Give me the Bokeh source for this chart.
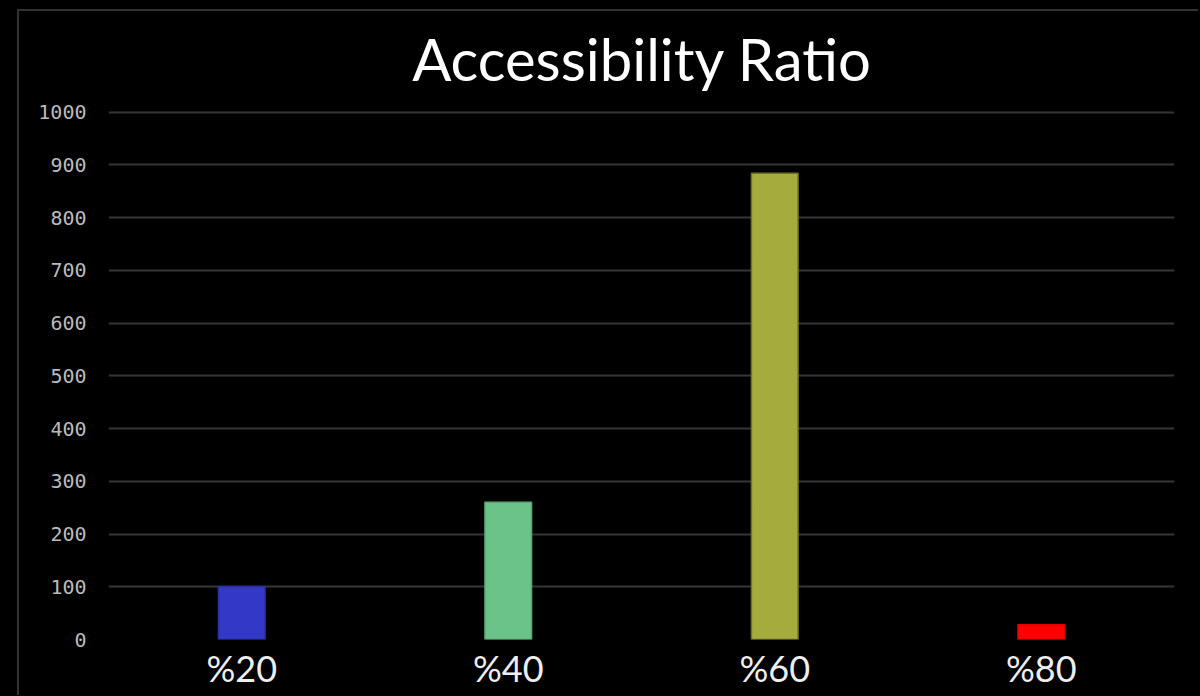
from bokeh.plotting import figure
from bokeh.models import Range1d, FixedTicker, Div
from bokeh.layouts import column
from bokeh.embed import file_html
from bokeh.resources import INLINE

title_text = "Accessibility Ratio"
categories = ["%20", "%40", "%60", "%80"]
values = [100, 260, 884, 28]
colors = ["#3338c6", "#6cc38a", "#a5ab3d", "#ff0000"]
outlines = ["#2a2fa8", "#5aa574", "#6e7228", "#e00000"]
y_ticks = [0, 100, 200, 300, 400, 500, 600, 700, 800, 900, 1000]

title = Div(
    text=('<div style="width:1181px;box-sizing:border-box;padding-left:64px;padding-top:19px;'
          'text-align:center;font-family:Lato;font-size:58px;line-height:58px;color:white;">'
          + title_text + '</div>'),
    width=1181, height=90, margin=0)

p = figure(x_range=categories, y_range=Range1d(0, 1003),
           width=1181, height=596, output_backend="svg", toolbar_location=None,
           min_border_left=89, min_border_right=24, min_border_top=9, min_border_bottom=58)

p.background_fill_color = "black"
p.border_fill_color = "black"
p.outline_line_color = None

p.vbar(x=categories, top=values, width=0.175, fill_color=colors, line_color=outlines, line_width=1.5)

p.yaxis.ticker = FixedTicker(ticks=y_ticks)
p.yaxis.axis_line_color = None
p.yaxis.major_tick_line_color = None
p.yaxis.minor_tick_line_color = None
p.yaxis.major_label_text_font = "DejaVu Sans Mono"
p.yaxis.major_label_text_font_size = "20px"
p.yaxis.major_label_text_color = "#bbbbbb"
p.yaxis.major_label_standoff = 16

p.xaxis.axis_line_color = None
p.xaxis.major_tick_line_color = None
p.xaxis.major_label_text_font = "Lato"
p.xaxis.major_label_text_font_size = "36px"
p.xaxis.major_label_text_color = "#eeeeee"
p.xaxis.major_label_standoff = 0

p.xgrid.grid_line_color = None
p.ygrid.grid_line_color = "#363636"
p.ygrid.grid_line_width = 2

inner = column(title, p, width=1181, height=686, margin=(9, 0, 0, 17),
               styles={"border-left": "2px solid #333333", "border-top": "2px solid #333333",
                       "background-color": "black"})
layout = column(inner, width=1200, height=696, styles={"background-color": "black"})

open("out.html", "w").write(file_html(layout, INLINE))
